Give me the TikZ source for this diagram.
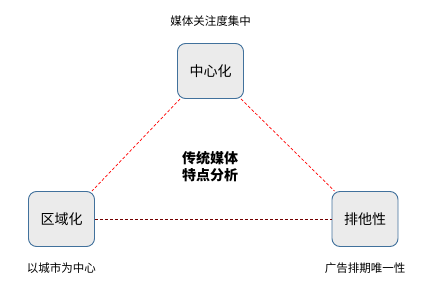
\documentclass[tikz,border=0pt]{standalone}
\usepackage{fontspec}
\setmainfont{Noto Sans CJK SC}
\usetikzlibrary{positioning}

\definecolor{boxline}{HTML}{41719C}
\definecolor{boxfill}{HTML}{EBEBEB}

\begin{document}
\begin{tikzpicture}[x=1pt, y=1pt,
		featbox/.style={draw=boxline, line width=0.9pt, fill=boxfill,
			rounded corners=8pt, minimum width=66pt, minimum height=55pt,
			inner sep=0pt, font=\fontsize{14}{16}\selectfont},
		note/.style={font=\fontsize{11.5}{13}\selectfont},
		link/.style={red, dashed, line width=0.7pt, dash pattern=on 3pt off 2pt}]
	\useasboundingbox (0,0) rectangle (434,298);
	% three features of traditional media
	\node[featbox] (central) at (210.5,227) {中心化};
	\node[featbox] (region) at (61.5,79) {区域化};
	\node[featbox] (exclusive) at (365,79) {排他性};
	\node[note, above=13pt of central] (centralnote) {媒体关注度集中};
	\node[note, below=12pt of region] (regionnote) {以城市为中心};
	\node[note, below=12pt of exclusive] (exclusivenote) {广告排期唯一性};
	\node[font=\fontsize{14}{17}\selectfont\bfseries, align=center] (title)
		at (210,131) {传统媒体\\特点分析};
	\draw[link] (central.south west) ++(3pt,0) -- ([xshift=-3pt]region.north east);
	\draw[link] (central.south east) ++(-3pt,0) -- ([xshift=3pt]exclusive.north west);
	\draw[link, red!45!black] (region) -- (exclusive);
\end{tikzpicture}
\end{document}
